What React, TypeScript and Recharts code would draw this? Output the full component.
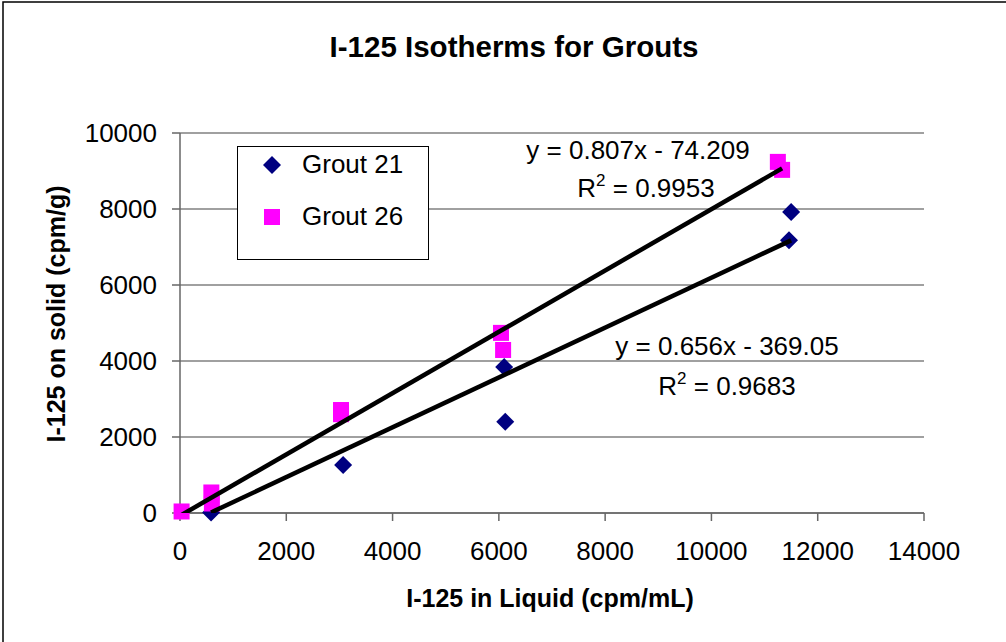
import React from 'react';
import { ScatterChart, Scatter, XAxis, YAxis, CartesianGrid, Legend } from 'recharts';

// ---- data ----
const grout21X = [585, 3070, 6120, 6100, 11500, 11460];
const grout21Y = [10, 1260, 2400, 3840, 7920, 7180];
const grout26X = [30, 590, 600, 3030, 3030, 6040, 6080, 11250, 11330];
const grout26Y = [40, 540, 250, 2710, 2600, 4740, 4290, 9240, 9030];

// trendline coefficients shown on the chart
const trend21 = { slope: 0.656, intercept: -369.05, eq: 'y = 0.656x - 369.05', r2: '0.9683' };
const trend26 = { slope: 0.807, intercept: -74.209, eq: 'y = 0.807x - 74.209', r2: '0.9953' };

const xTicks = [0, 2000, 4000, 6000, 8000, 10000, 12000, 14000];
const yTicks = [0, 2000, 4000, 6000, 8000, 10000];
const seriesNames = ['Grout 21', 'Grout 26'];

const toPoints = (xs: number[], ys: number[]) => xs.map((x, i) => ({ x, y: ys[i] }));
const trendPoints = (xs: number[], t: { slope: number; intercept: number }) => {
  const lo = Math.min(...xs);
  const hi = Math.max(...xs);
  return [lo, hi].map((x) => ({ x, y: t.slope * x + t.intercept }));
};

const data21 = toPoints(grout21X, grout21Y);
const data26 = toPoints(grout26X, grout26Y);
const line21 = trendPoints(grout21X, trend21);
const line26 = trendPoints(grout26X, trend26);

const FONT = '"Liberation Sans", Arial, sans-serif';
const NAVY = '#000080';
const MAGENTA = '#FF00FF';

const DiamondShape = (props: any) => {
  const { cx, cy } = props;
  const r = 9;
  return <polygon points={`${cx},${cy - r} ${cx + r},${cy} ${cx},${cy + r} ${cx - r},${cy}`} fill={NAVY} />;
};
const SquareShape = (props: any) => {
  const { cx, cy } = props;
  return <rect x={cx - 8} y={cy - 8} width={16} height={16} fill={MAGENTA} />;
};
const NoShape = () => <g />;

const LegendContent = () => (
  <svg width={190} height={112} style={{ display: 'block' }}>
    <polygon points="34,9 43,18 34,27 25,18" fill={NAVY} />
    <text x={64} y={26} fontSize={26} fontFamily={FONT} fill="#000">{seriesNames[0]}</text>
    <rect x={26} y={62} width={16} height={16} fill={MAGENTA} />
    <text x={64} y={78} fontSize={26} fontFamily={FONT} fill="#000">{seriesNames[1]}</text>
  </svg>
);

export default function App() {
  return (
    <div style={{ position: 'absolute', left: 0, top: 0, width: 1006, height: 642, background: '#fff', overflow: 'hidden', fontFamily: FONT }}>
      <ScatterChart width={1006} height={642} margin={{ top: 133, right: 82, bottom: 69, left: 0 }}>
        <CartesianGrid horizontal vertical={false} stroke="#808080" strokeWidth={1.5} />
        <XAxis
          type="number"
          dataKey="x"
          domain={[0, 14000]}
          ticks={xTicks}
          interval={0}
          height={60}
          stroke="#666"
          strokeWidth={1.5}
          tickSize={8}
          tickMargin={21}
          tick={{ fontSize: 26, fill: '#000', fontFamily: FONT }}
        />
        <YAxis
          type="number"
          dataKey="y"
          domain={[0, 10000]}
          ticks={yTicks}
          interval={0}
          width={180}
          stroke="#666"
          strokeWidth={1.5}
          tickSize={8}
          tickMargin={15}
          tick={{ fontSize: 26, fill: '#000', fontFamily: FONT }}
        />
        <XAxis xAxisId="trend" type="number" dataKey="x" domain={[0, 14000]} hide allowDataOverflow />
        <YAxis yAxisId="trend" type="number" dataKey="y" domain={[0, 10000]} hide allowDataOverflow />
        <Legend
          layout="vertical"
          align="center"
          verticalAlign="middle"
          content={<LegendContent />}
          wrapperStyle={{ position: 'absolute', left: 237, top: 146, width: 192, height: 114, border: '1px solid #000', background: '#fff', boxSizing: 'border-box', margin: 0, padding: 0 }}
        />
        <Scatter name={seriesNames[0]} data={data21} shape={<DiamondShape />} isAnimationActive={false} />
        <Scatter name={seriesNames[1]} data={data26} shape={<SquareShape />} isAnimationActive={false} />
        <Scatter xAxisId="trend" yAxisId="trend" data={line26} line={{ stroke: '#000', strokeWidth: 4.5 }} shape={<NoShape />} legendType="none" isAnimationActive={false} />
        <Scatter xAxisId="trend" yAxisId="trend" data={line21} line={{ stroke: '#000', strokeWidth: 4.5 }} shape={<NoShape />} legendType="none" isAnimationActive={false} />
      </ScatterChart>
      <svg width={1006} height={642} style={{ position: 'absolute', left: 0, top: 0, pointerEvents: 'none' }} fontFamily={FONT}>
        <rect x={3} y={2} width={1010} height={660} fill="none" stroke="#000" strokeWidth={1.5} />
        <text x={514} y={57} textAnchor="middle" fontSize={29.5} fontWeight="bold">I-125 Isotherms for Grouts</text>
        <text x={550} y={607} textAnchor="middle" fontSize={25} fontWeight="bold">I-125 in Liquid (cpm/mL)</text>
        <text x={65} y={314} textAnchor="middle" fontSize={25} fontWeight="bold" transform="rotate(-90, 65, 314)">I-125 on solid (cpm/g)</text>
        <text x={638} y={159} textAnchor="middle" fontSize={26}>{trend26.eq}</text>
        <text x={646} y={197} textAnchor="middle" fontSize={26}>R<tspan dy={-11} fontSize={17}>2</tspan><tspan dy={11}>{` = ${trend26.r2}`}</tspan></text>
        <text x={727} y={355} textAnchor="middle" fontSize={26}>{trend21.eq}</text>
        <text x={727} y={395} textAnchor="middle" fontSize={26}>R<tspan dy={-11} fontSize={17}>2</tspan><tspan dy={11}>{` = ${trend21.r2}`}</tspan></text>
      </svg>
    </div>
  );
}
